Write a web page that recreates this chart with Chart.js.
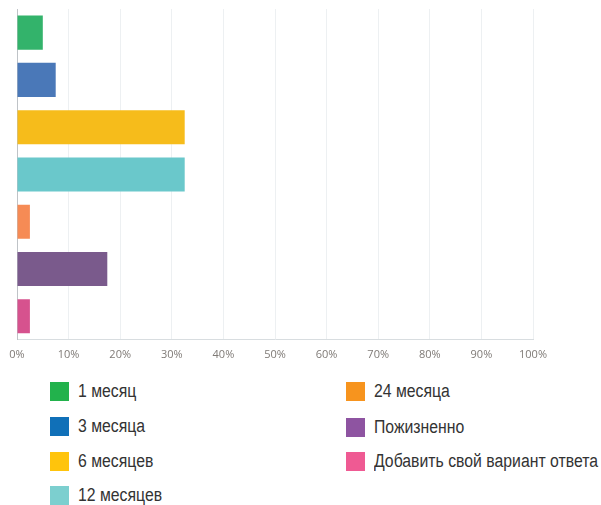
<!DOCTYPE html>
<html lang="ru">
<head>
  <meta charset="UTF-8">
  <title>Срок подписки</title>
  <script src="https://cdn.jsdelivr.net/npm/chart.js"></script>
  <style>
    body { margin: 0; background: #fff; }
    #wrap { position: relative; width: 601px; height: 505px; }
    #chartBox { position: absolute; left: 0; top: 0; width: 601px; height: 370px; }
    .item { position: absolute; height: 19px; font-family: "Liberation Sans", Arial, sans-serif; font-size: 18px; color: #333; line-height: 19px; white-space: nowrap; }
    .item span.sw { position: absolute; left: 0; top: 0; width: 19px; height: 19px; }
    .item span.tx { position: absolute; left: 28px; top: 0; display: inline-block; transform-origin: 0 50%; }
  </style>
</head>
<body>
  <div id="wrap">
    <div id="chartBox"><canvas id="termChart"></canvas></div>
    <div id="legend"></div>
  </div>
  <script>
    // данные
    const categories = ["1 месяц", "3 месяца", "6 месяцев", "12 месяцев", "24 месяца", "Пожизненно", "Добавить свой вариант ответа"];
    const shares = [5, 7.5, 32.5, 32.5, 2.5, 17.5, 2.5];
    const xTicks = [0, 10, 20, 30, 40, 50, 60, 70, 80, 90, 100];

    const barColors = ["#33b36b", "#4a78b8", "#f6bc1b", "#6ac8cb", "#f68b55", "#7a5a8c", "#d6528e"];
    const legendColors = ["#22b24c", "#1070b8", "#ffc40c", "#7ccfcf", "#f7941e", "#8e54a1", "#ef5a93"];

    new Chart(document.getElementById("termChart"), {
      type: "bar",
      data: {
        labels: categories,
        datasets: [{
          data: shares,
          backgroundColor: barColors,
          barPercentage: 0.72,
          categoryPercentage: 1
        }]
      },
      options: {
        indexAxis: "y",
        responsive: true,
        maintainAspectRatio: false,
        animation: false,
        layout: { padding: { left: 17, right: 68, top: 9, bottom: 1 } },
        plugins: { legend: { display: false }, tooltip: { enabled: false } },
        scales: {
          x: {
            min: 0,
            max: 100,
            afterBuildTicks: (axis) => { axis.ticks = xTicks.map(v => ({ value: v })); },
            ticks: {
              padding: 8,
              color: "#7f7a76",
              font: { family: "'Open Sans', sans-serif", size: 11 },
              callback: (v) => v + "%"
            },
            grid: { color: "#edf0f2", drawTicks: false },
            border: { color: "#d8dde0" }
          },
          y: {
            ticks: { display: false },
            grid: { display: false, drawTicks: false },
            border: { color: "#bfc3c7" }
          }
        }
      }
    });

    // легенда в две колонки
    const legendPos = [
      [50, 382], [50, 417], [50, 452], [50, 486],
      [346, 382], [346, 418], [346, 452]
    ];
    const legend = document.getElementById("legend");
    const spans = [];
    categories.forEach((name, i) => {
      const el = document.createElement("div");
      el.className = "item";
      el.style.left = legendPos[i][0] + "px";
      el.style.top = legendPos[i][1] + "px";
      el.innerHTML = '<span class="sw" style="background:' + legendColors[i] + '"></span><span class="tx">' + name + '</span>';
      legend.appendChild(el);
      spans.push(el.querySelector(".tx"));
    });
    // узкое начертание: сжимаем по ширине самой длинной подписи
    const longest = Math.max(...spans.map(s => s.getBoundingClientRect().width));
    const k = 224 / longest;
    spans.forEach(s => { s.style.transform = "scaleX(" + k + ")"; });
  </script>
</body>
</html>
